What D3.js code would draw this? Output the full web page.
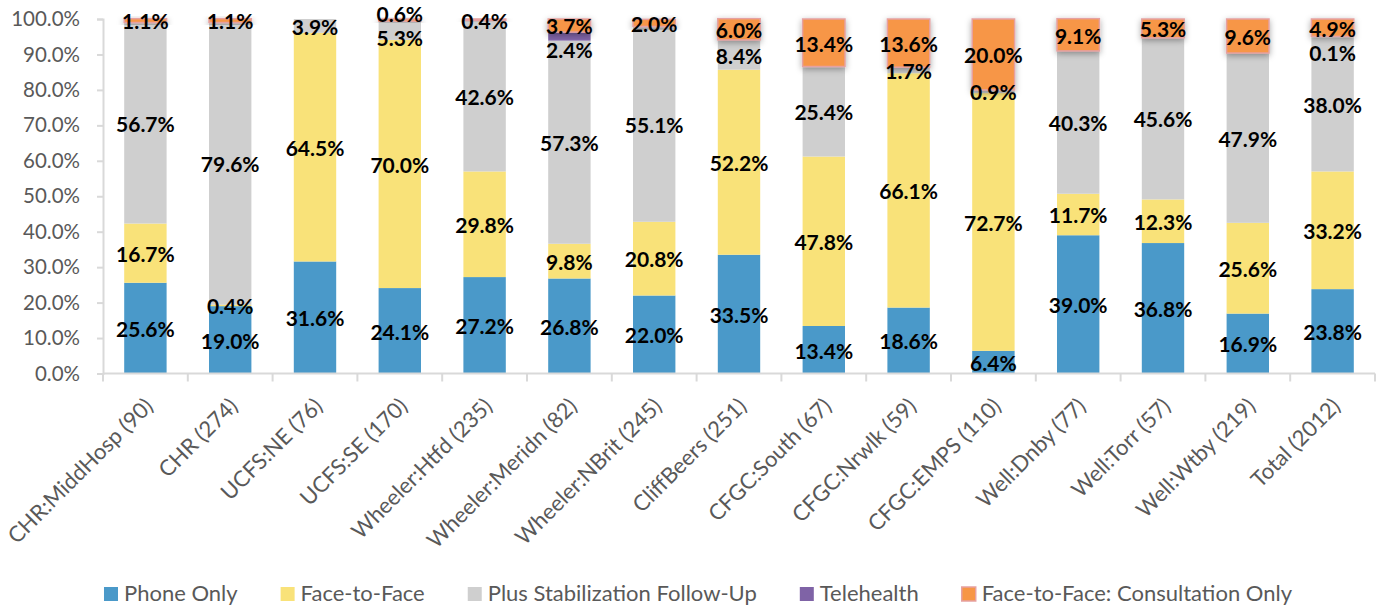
<!DOCTYPE html>
<html>
<head>
<meta charset="utf-8">
<script src="https://cdn.jsdelivr.net/npm/d3@7"></script>
<style>
html,body{margin:0;padding:0;background:#fff;}
svg{display:block;font-family:Lato, "Open Sans", sans-serif;}
</style>
</head>
<body>
<svg id="chart" width="1380" height="608"></svg>
<script>
const categories = ["CHR:MiddHosp (90)","CHR (274)","UCFS:NE (76)","UCFS:SE (170)","Wheeler:Htfd (235)","Wheeler:Meridn (82)","Wheeler:NBrit (245)","CliffBeers (251)","CFGC:South (67)","CFGC:Nrwlk (59)","CFGC:EMPS (110)","Well:Dnby (77)","Well:Torr (57)","Well:Wtby (219)","Total (2012)"];
const seriesNames = ["Phone Only","Face-to-Face","Plus Stabilization Follow-Up","Telehealth","Face-to-Face: Consultation Only"];
const phoneOnly   = [25.6,19.0,31.6,24.1,27.2,26.8,22.0,33.5,13.4,18.6,6.4,39.0,36.8,16.9,23.8];
const faceToFace  = [16.7,0.4,64.5,70.0,29.8,9.8,20.8,52.2,47.8,66.1,72.7,11.7,12.3,25.6,33.2];
const plusStab    = [56.7,79.6,3.9,5.3,42.6,57.3,55.1,8.4,25.4,1.7,0.9,40.3,45.6,47.9,38.0];
const telehealth  = [0,0,0,0,0,2.4,0,0,0,0,0,0,0,0,0.1];
const consultOnly = [1.1,1.1,0,0.6,0.4,3.7,2.0,6.0,13.4,13.6,20.0,9.1,5.3,9.6,4.9];
const yTicks = [0,10,20,30,40,50,60,70,80,90,100];
const colors = ["#4a99c9","#f9e279","#cfcfcf","#7f63a6","#f79646"];

const seriesValues = [phoneOnly, faceToFace, plusStab, telehealth, consultOnly];
const rows = categories.map((c,i)=>{
  const r = {cat:c};
  seriesNames.forEach((s,j)=> r[s] = seriesValues[j][i]);
  return r;
});
const stack = d3.stack().keys(seriesNames)(rows);

const svg = d3.select("#chart");
const defs = svg.append("defs");
const f = defs.append("filter").attr("id","shadow").attr("x","-50%").attr("y","-50%").attr("width","200%").attr("height","200%");
f.append("feDropShadow").attr("dx",0).attr("dy",2).attr("stdDeviation",3).attr("flood-color","#000").attr("flood-opacity",0.35);

const mLeft = 103, mRight = 1375, mTop = 19, mBottom = 373.5;
const x = d3.scaleBand().domain(categories).range([mLeft,mRight]).paddingInner(0.5).paddingOuter(0.25);
const y = d3.scaleLinear().domain([0,100]).range([mBottom,mTop]);

// axes
const yAxis = svg.append("g").attr("transform",`translate(${mLeft},0)`)
  .call(d3.axisLeft(y).tickValues(yTicks).tickFormat(d=>d3.format(".1f")(d)+"%").tickSize(6).tickPadding(17));
yAxis.select(".domain").attr("stroke","#d9d9d9").attr("stroke-width",2);
yAxis.selectAll(".tick line").attr("stroke","#d9d9d9").attr("stroke-width",2);
yAxis.selectAll("text").attr("fill","#595959").style("font-size","20.5px").style("font-family","Lato");

// bars
const groups = svg.append("g").selectAll("g").data(stack).join("g")
  .attr("fill",(d,i)=>colors[i]);
groups.selectAll("rect").data(d=>d.map(v=>({v, key:d.key}))).join("rect")
  .attr("x",d=>x(d.v.data.cat))
  .attr("width",x.bandwidth())
  .attr("y",d=>y(d.v[1]))
  .attr("height",d=>Math.max(0,y(d.v[0])-y(d.v[1])))
  .attr("stroke",d=>d.key===seriesNames[4] ? "#e6a1a1" : "none")
  .attr("stroke-width",1.5)
  .attr("filter",d=>d.key===seriesNames[4] && d.v[1]-d.v[0]>0 ? "url(#shadow)" : null)
  .style("display",d=>d.v[1]-d.v[0]>0?null:"none");

// x axis
const xAxisG = svg.append("g").attr("transform",`translate(0,${mBottom})`);
xAxisG.append("line").attr("x1",mLeft).attr("x2",mRight).attr("y1",0).attr("y2",0).attr("stroke","#d9d9d9").attr("stroke-width",2);
const boundaries = d3.range(categories.length+1).map(i=>mLeft + i*(mRight-mLeft)/categories.length);
xAxisG.selectAll("line.tk").data(boundaries).join("line").attr("class","tk")
  .attr("x1",d=>d).attr("x2",d=>d).attr("y1",0).attr("y2",8).attr("stroke","#d9d9d9").attr("stroke-width",2);
xAxisG.selectAll("text").data(categories).join("text")
  .attr("transform",d=>`translate(${x(d)+x.bandwidth()/2+9},${34}) rotate(-45)`)
  .attr("text-anchor","end")
  .attr("fill","#595959")
  .style("font-size","22px")
  .text(d=>d);

// data labels with simple collision handling
const labelG = svg.append("g");
const minY = 13.5;
categories.forEach((c,i)=>{
  const labs = [];
  stack.forEach((s,j)=>{
    const v = seriesValues[j][i];
    if (v>0) labs.push({v, yc: y((s[i][0]+s[i][1])/2), x: x(c)+x.bandwidth()/2});
  });
  labs.sort((a,b)=>a.yc-b.yc);
  const minGap = 24;
  for (let k=1;k<labs.length;k++){
    const a = labs[k-1], b = labs[k];
    if (b.yc - a.yc < minGap){
      if (a.v < b.v) {
        a.yc = Math.max(minY, b.yc - minGap);
        b.yc = a.yc + minGap;
      } else b.yc = a.yc + minGap;
    }
  }
  labs.forEach(l=>{
    labelG.append("text").attr("x",l.x).attr("y",l.yc+1.5).attr("dy","0.35em")
      .attr("text-anchor","middle").attr("fill","#000")
      .style("font-size","21px").style("font-weight","bold")
      .text(d3.format(".1f")(l.v)+"%");
  });
});

// legend
const legend = svg.append("g");
const items = legend.selectAll("g").data(seriesNames).join("g");
items.append("rect").attr("width",14).attr("height",14).attr("y",-14)
  .attr("fill",(d,i)=>colors[i])
  .attr("stroke",(d,i)=>i===4?"#e6a1a1":"none").attr("stroke-width",1.5);
items.append("text").attr("x",20).attr("y",0).attr("fill","#595959").style("font-size","22px").text(d=>d);
let pos = 0; const offs=[];
items.each(function(d,i){
  const w = 20 + this.querySelector("text").getComputedTextLength();
  offs.push(pos);
  pos += w + 43;
});
const total = pos - 43;
const startX = 698 - total/2;
items.attr("transform",(d,i)=>`translate(${startX+offs[i]},601)`);
</script>
</body>
</html>
